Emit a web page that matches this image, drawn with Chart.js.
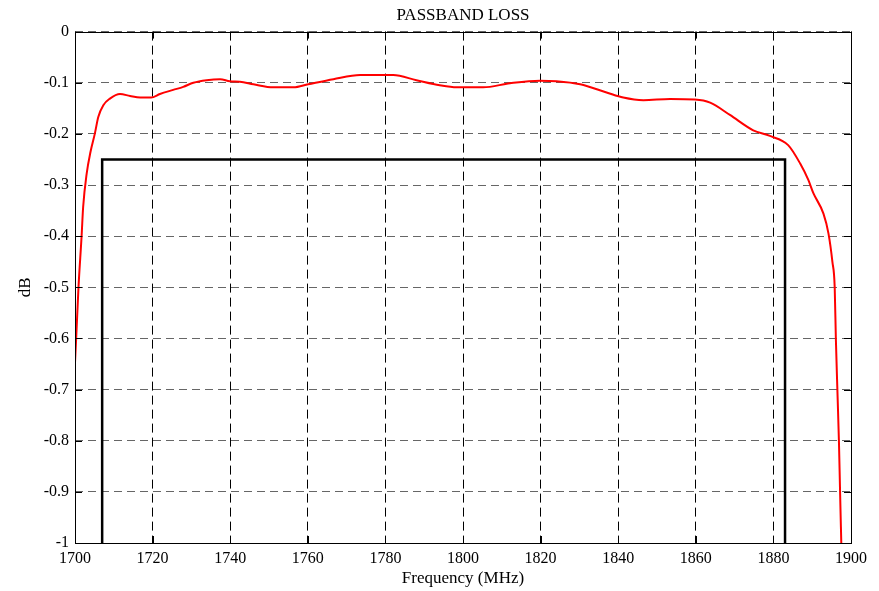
<!DOCTYPE html>
<html>
<head>
<meta charset="utf-8">
<script src="https://cdn.jsdelivr.net/npm/chart.js@4.4.1/dist/chart.umd.min.js"></script>
<style>
  html, body { margin: 0; padding: 0; background: #fff; }
  #wrap { width: 879px; height: 591px; }
</style>
</head>
<body>
<div id="wrap"><canvas id="c" width="879" height="591"></canvas></div>
<script>
// Measured passband response (MHz, dB)
const freq = [1700, 1700.3, 1700.9, 1701.7, 1702.1, 1703, 1704, 1705.1, 1706, 1707.3, 1709, 1711.6,
  1714.2, 1716.8, 1719.6, 1721.9, 1725.3, 1727.9, 1730.5, 1733.9, 1737.4, 1739.9, 1742.5, 1746,
  1751.1, 1756.3, 1760.1, 1766.6, 1773.5, 1782, 1788, 1794, 1798.4, 1805.2, 1812.1, 1819.8, 1824.1,
  1830.2, 1837, 1841.3, 1846.5, 1853.4, 1859.8, 1863.7, 1868.8, 1874.8, 1879.1, 1883.8, 1886.9,
  1889, 1890.3, 1892.9, 1894.2, 1895.2, 1895.8, 1896.1, 1896.5, 1896.9, 1897.2, 1897.5];
const loss = [-0.647, -0.60, -0.50, -0.40, -0.343, -0.278, -0.235, -0.2, -0.167, -0.144, -0.131, -0.122,
  -0.126, -0.129, -0.129, -0.122, -0.114, -0.108, -0.1, -0.095, -0.093, -0.097, -0.098, -0.103,
  -0.109, -0.109, -0.103, -0.093, -0.085, -0.085, -0.095, -0.105, -0.109, -0.109, -0.101, -0.096, -0.097,
  -0.103, -0.119, -0.129, -0.134, -0.132, -0.133, -0.139, -0.163, -0.193, -0.204, -0.222, -0.258,
  -0.29, -0.316, -0.356, -0.395, -0.45, -0.50, -0.601, -0.703, -0.804, -0.905, -1.0];

// Specification mask
const maskFreq = [1707, 1707, 1883, 1883];
const maskLoss = [-1, -0.25, -0.25, -1];

// Axis ticks
const xTicks = [1700, 1720, 1740, 1760, 1780, 1800, 1820, 1840, 1860, 1880, 1900];
const yTicks = [0, -0.1, -0.2, -0.3, -0.4, -0.5, -0.6, -0.7, -0.8, -0.9, -1];

const TITLE = 'PASSBAND LOSS';
const toPoints = (xs, ys) => xs.map((x, i) => ({ x: x, y: ys[i] }));
const FONT = 'Liberation Serif';

// Axis box with inward tick marks, and the title centred over the plot area
const frame = {
  id: 'frame',
  afterDatasetsDraw(chart) {
    const { ctx, chartArea: a, scales } = chart;
    ctx.save();
    ctx.strokeStyle = '#000';
    ctx.lineWidth = 1;
    ctx.strokeRect(Math.round(a.left) + 0.5, Math.round(a.top) + 0.5,
      Math.round(a.right - a.left), Math.round(a.bottom - a.top));
    ctx.beginPath();
    xTicks.forEach(t => {
      const px = Math.round(scales.x.getPixelForValue(t)) + 0.5;
      ctx.moveTo(px, a.bottom); ctx.lineTo(px, a.bottom - 7);
      ctx.moveTo(px, a.top); ctx.lineTo(px, a.top + 7);
    });
    yTicks.forEach(t => {
      const py = Math.round(scales.y.getPixelForValue(t)) + 0.5;
      ctx.moveTo(a.left, py); ctx.lineTo(a.left + 7, py);
      ctx.moveTo(a.right, py); ctx.lineTo(a.right - 7, py);
    });
    ctx.stroke();

    ctx.fillStyle = '#000';
    ctx.font = '17px "' + FONT + '"';
    ctx.textAlign = 'center';
    ctx.textBaseline = 'alphabetic';
    ctx.fillText(TITLE, (a.left + a.right) / 2, 20);
    ctx.restore();
  }
};

new Chart(document.getElementById('c'), {
  type: 'scatter',
  data: {
    datasets: [
      {
        data: toPoints(freq, loss),
        showLine: true,
        borderColor: '#ff0000',
        borderWidth: 2,
        pointRadius: 0,
        tension: 0.3,
        cubicInterpolationMode: 'monotone'
      },
      {
        data: toPoints(maskFreq, maskLoss),
        showLine: true,
        borderColor: '#000',
        borderWidth: 2.5,
        pointRadius: 0,
        tension: 0
      }
    ]
  },
  options: {
    responsive: false,
    animation: false,
    devicePixelRatio: 1,
    layout: { padding: { left: 0, right: 28, top: 31.6, bottom: 0 } },
    plugins: {
      legend: { display: false },
      tooltip: { enabled: false },
      title: { display: false }
    },
    scales: {
      x: {
        type: 'linear',
        min: 1700,
        max: 1900,
        afterBuildTicks(s) { s.ticks = xTicks.map(v => ({ value: v })); },
        afterFit(s) { s.height = 48; },
        grid: {
          color: '#000',
          lineWidth: 1,
          drawTicks: false,
          tickLength: 0
        },
        border: { display: false, dash: [9, 5] },
        ticks: {
          color: '#000',
          padding: 6,
          maxRotation: 0,
          font: { family: FONT, size: 16 },
          callback: v => String(v)
        },
        title: {
          display: true,
          text: 'Frequency (MHz)',
          color: '#000',
          font: { family: FONT, size: 17 },
          padding: { top: 0, bottom: 2 }
        }
      },
      y: {
        type: 'linear',
        min: -1,
        max: 0,
        afterBuildTicks(s) { s.ticks = yTicks.map(v => ({ value: v })); },
        afterFit(s) { s.width = 75; },
        grid: {
          color: '#666',
          lineWidth: 1,
          drawTicks: false,
          tickLength: 0
        },
        border: { display: false, dash: [8, 5] },
        ticks: {
          color: '#000',
          padding: 6,
          font: { family: FONT, size: 16 },
          callback: v => (Math.round(v * 10) / 10).toString()
        },
        title: {
          display: true,
          text: 'dB',
          color: '#000',
          font: { family: FONT, size: 17 },
          padding: { top: 15, bottom: 0 }
        }
      }
    }
  },
  plugins: [frame]
});
</script>
</body>
</html>
